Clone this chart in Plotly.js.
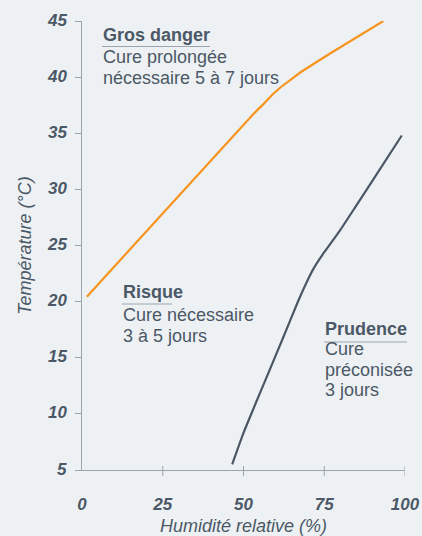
<!DOCTYPE html>
<html>
<head>
<meta charset="utf-8">
<script src="https://cdn.plot.ly/plotly-3.0.1.min.js"></script>
<style>
html,body{margin:0;padding:0;background:#eef1f4;}
#chart{width:422px;height:536px;}
</style>
</head>
<body>
<div id="chart"></div>
<script>
// Data
const humiditeGrosDanger = [1.5, 48.5, 53, 56, 59, 61.5, 64.4, 68, 76.8, 87.1, 93.3];
const temperatureGrosDanger = [20.44, 35.3, 36.7, 37.55, 38.45, 39.1, 39.75, 40.5, 42.1, 43.9, 45.0];

const humiditePrudence = [46.5, 50, 54, 57.2, 62, 67, 70, 72, 75, 80, 85, 90, 99];
const temperaturePrudence = [5.5, 8.3, 11.1, 13.3, 16.6, 20.1, 22.0, 23.1, 24.4, 26.4, 28.6, 30.8, 34.8];

const xTicks = [0, 25, 50, 75, 100];
const xTickMarks = [25, 50, 75, 100];
const yTicks = [5, 10, 15, 20, 25, 30, 35, 40, 45];

const textColor = '#4b5866';
const axisColor = '#9aa5ae';
const bg = '#eef1f4';
const FONT = 'Liberation Sans, Arial, Helvetica, sans-serif';

// plot area in pixels
const L = 82, R = 405, T = 21, B = 470;
const px = x => (x - L) / (R - L);
const py = y => (B - y) / (B - T);

const traces = [
  {x: humiditeGrosDanger, y: temperatureGrosDanger, mode: 'lines', type: 'scatter',
   line: {color: '#f7941d', width: 2.2}, hoverinfo: 'skip'},
  {x: humiditePrudence, y: temperaturePrudence, mode: 'lines', type: 'scatter',
   line: {color: '#4a5764', width: 2.2, shape: 'spline', smoothing: 0.5}, hoverinfo: 'skip'}
];

const annotations = [];
function block(left, baselines, lines) {
  lines.forEach((t, i) => {
    annotations.push({
      xref: 'paper', yref: 'paper', x: px(left), y: py(baselines[i]),
      xanchor: 'left', yanchor: 'bottom', align: 'left', showarrow: false,
      borderpad: 0, yshift: -4,
      text: i === 0 ? '<b>' + t + '</b>' : t,
      font: {family: FONT, size: 18, color: textColor}
    });
  });
}
function underline(x0, x1, y) {
  return {type: 'line', xref: 'paper', yref: 'paper', x0: px(x0), x1: px(x1), y0: py(y), y1: py(y),
          line: {color: axisColor, width: 1}};
}

block(102, [42, 64, 85], ['Gros danger', 'Cure prolongée', 'nécessaire 5 à 7 jours']);
block(122, [299, 321.5, 343], ['Risque', 'Cure nécessaire', '3 à 5 jours']);
block(324, [336, 356, 376.5, 397], ['Prudence', 'Cure', 'préconisée', '3 jours']);

// y tick labels (bold italic), placed on the y scale
yTicks.forEach(v => annotations.push({
  xref: 'paper', yref: 'y', x: px(68), y: v, xanchor: 'right', yanchor: 'middle',
  showarrow: false, borderpad: 0, yshift: 1,
  text: '<b><i>' + v + '</i></b>',
  font: {family: FONT, size: 17, color: textColor}
}));

const shapes = [
  underline(102, 210, 46.5),
  underline(122, 172, 304),
  underline(324, 407, 342)
];
xTickMarks.forEach(v => shapes.push({
  type: 'line', xref: 'x', yref: 'paper', ysizemode: 'pixel', yanchor: 0,
  x0: v, x1: v, y0: -6, y1: 4, line: {color: axisColor, width: 1}
}));

const layout = {
  width: 422, height: 536,
  paper_bgcolor: bg, plot_bgcolor: bg,
  margin: {l: L, r: 422 - R, t: T, b: 536 - B},
  showlegend: false,
  font: {family: FONT, color: textColor},
  xaxis: {
    range: [0, 100], tickmode: 'array', tickvals: xTicks,
    ticktext: xTicks.map(v => '<b><i>' + v + '</i></b>'), ticks: '',
    showgrid: false, zeroline: false, showline: true, linecolor: axisColor, linewidth: 1,
    ticklabelstandoff: 19,
    tickfont: {family: FONT, size: 17, color: textColor, weight: 'bold', style: 'italic'},
    title: {text: 'Humidité relative (%)', standoff: 7,
            font: {family: FONT, size: 18, color: textColor, style: 'italic'}},
    automargin: false, fixedrange: true
  },
  yaxis: {
    range: [5, 45], tickmode: 'array', tickvals: yTicks, showticklabels: false,
    ticks: 'outside', ticklen: 6, tickcolor: axisColor, tickwidth: 1,
    showgrid: false, zeroline: false, showline: true, linecolor: axisColor, linewidth: 1,
    title: {text: 'Température (°C)', standoff: 38,
            font: {family: FONT, size: 18, color: textColor, style: 'italic'}},
    automargin: false, fixedrange: true
  },
  annotations: annotations,
  shapes: shapes
};

Plotly.newPlot('chart', traces, layout, {displayModeBar: false, staticPlot: true});
</script>
</body>
</html>
